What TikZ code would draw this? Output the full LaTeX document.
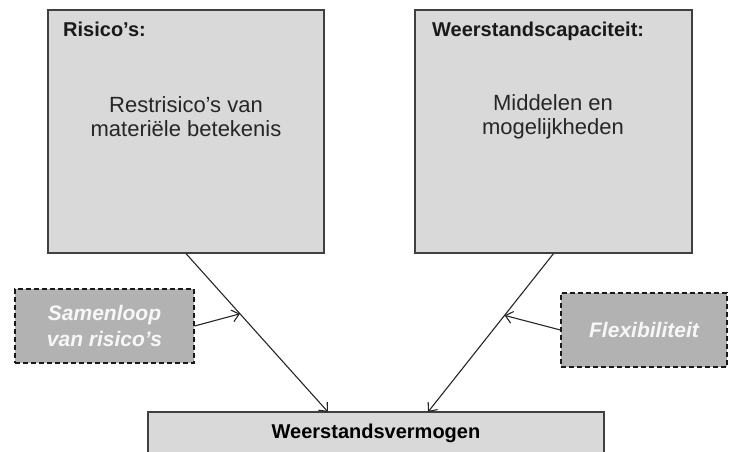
\documentclass[tikz,border=0pt]{standalone}
\usepackage{fontspec}
\setmainfont{Liberation Sans}
\usetikzlibrary{arrows.meta,calc}
\newcommand\apos{\char"0027\relax}

\begin{document}
\begin{tikzpicture}[
  x=1pt,y=-1pt,
  bigbox/.style={draw=black!75,line width=1.2pt,fill=black!15,inner sep=0pt},
  dashbox/.style={draw=black!90,line width=1.2pt,dash pattern=on 5pt off 3pt,
    fill=black!30,inner sep=0pt,text=black!3,align=center,
    font=\fontsize{21}{26}\selectfont\bfseries\itshape},
  title/.style={anchor=base west,inner sep=0pt,text=black!90,
    font=\fontsize{20}{24}\selectfont\bfseries},
  body/.style={inner sep=0pt,align=center,text=black!85,
    font=\fontsize{22}{24}\selectfont},
  link/.style={draw=black!85,line width=1.1pt,
    -{Straight Barb[length=7pt,width=12pt]}},
  ]
  \useasboundingbox (0,0) rectangle (729,452);

  % bovenste blokken
  \node[bigbox,minimum width=276,minimum height=243] (risico) at (186,131.5) {};
  \node[bigbox,minimum width=277,minimum height=243] (capaciteit) at (553.5,131.5) {};
  \node[title] (risicotitel) at (63,37) {Risico\apos s:};
  \node[title] (capaciteittitel) at (432,37) {Weerstandscapaciteit:};
  \node[body] (risicotekst) at (186,117) {Restrisico\apos s van\\materiële betekenis};
  \node[body] (capaciteittekst) at (553,117) {Middelen en\\mogelijkheden};

  % onderste blok
  \node[bigbox,minimum width=456,minimum height=60] (vermogen) at (376,442) {};
  \node[title,anchor=base,text=black] (vermogentekst) at (376,438) {Weerstandsvermogen};

  % invloeden
  \node[dashbox,minimum width=179,minimum height=74] (samenloop) at (104.5,326) {Samenloop\\van risico\apos s};
  \node[dashbox,minimum width=166,minimum height=74] (flex) at (644,330) {Flexibiliteit};

  \coordinate (inlinks) at (328,412);
  \coordinate (inrechts) at (428,412);
  \draw[link] (risico.south) -- (inlinks);
  \draw[link] (capaciteit.south) -- (inrechts);
  \draw[link] (samenloop.east) -- ($(risico.south)!0.38!(inlinks)$);
  \draw[link] (flex.west) -- ($(capaciteit.south)!0.39!(inrechts)$);
\end{tikzpicture}
\end{document}
